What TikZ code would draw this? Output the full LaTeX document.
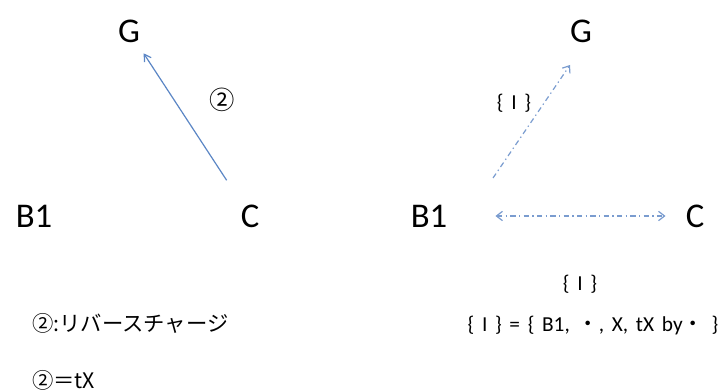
\documentclass[tikz,border=0pt]{standalone}
\usepackage{fontspec}
\setmainfont{Carlito}
\newfontfamily\jpfont{Noto Sans CJK JP}
\usetikzlibrary{arrows.meta}
\definecolor{arrL}{HTML}{5B86C5}
\definecolor{arrR}{HTML}{7A9CCF}
\newcommand\myws{\spaceskip=0.36em plus 0.1em\relax}
\tikzset{
  big/.style={font=\fontsize{26}{30}\selectfont, inner sep=2pt},
  small/.style={font=\fontsize{16}{19}\selectfont, inner sep=1pt},
  jp/.style={font=\jpfont\fontsize{16}{19}\selectfont, inner sep=0pt, anchor=west},
  solidarrow/.style={draw=arrL, line width=0.9pt, -{Straight Barb[length=5pt,width=6pt]}},
  ddarrow/.style={draw=arrR, line width=0.9pt, dash pattern=on 4pt off 2.5pt on 1pt off 2.5pt},
  ddtip/.style={-{Straight Barb[length=4.5pt,width=7pt]}},
}
\begin{document}
\begin{tikzpicture}[x=0.75pt,y=-0.75pt]
\useasboundingbox (0,0) rectangle (727,392);
% left panel
\node[big] (G1) at (129,31) {G};
\node[big] (B1a) at (34,216) {B1};
\node[big] (C1) at (250,216) {C};
\node[font=\jpfont\fontsize{19}{22}\selectfont] (L2) at (222,100) {②};
\draw[solidarrow, shorten <=32pt, shorten >=20pt] (C1.center) -- (G1.center);
% right panel
\node[big] (G2) at (581,31) {G};
\node[big] (B1b) at (429,216) {B1};
\node[big] (C2) at (695,216) {C};
\coordinate (bgS) at (493,178);
\coordinate (bgE) at (570,65);
\draw[ddarrow, ddtip] (bgS) -- (bgE);
\node[small] (I1) at (514,103) {\myws\{ I \}};
\draw[ddarrow, {Straight Barb[length=4.5pt,width=7pt]}-{Straight Barb[length=4.5pt,width=7pt]}, shorten <=34pt, shorten >=13pt] (B1b.east) -- (C2.west);
% bottom right
\node[small] (I2) at (580,284) {\myws\{ I \}};
\node[small] (Ieq) at (593,326) {\myws\{ I \} = \{ B1, {\jpfont ・}, X, tX by{\jpfont ・} \}};
% bottom left
\node[jp] (T1) at (32,323) {②:リバースチャージ};
\node[jp] (T2) at (32,380) {②＝tX};
\end{tikzpicture}
\end{document}
